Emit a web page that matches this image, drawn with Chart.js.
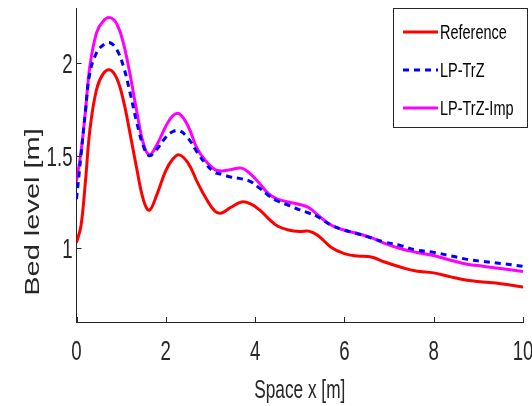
<!DOCTYPE html>
<html><head><meta charset="utf-8">
<script src="https://cdn.jsdelivr.net/npm/chart.js@4/dist/chart.umd.min.js"></script>
<style>html,body{margin:0;padding:0;background:#fff;}#wrap{width:532px;height:406px;position:relative;}</style>
</head><body><div id="wrap"><canvas id="c" width="532" height="406"></canvas></div>
<script>
const xValues = [0, 0.1, 0.2, 0.3, 0.45, 0.6, 0.75, 0.9, 1.05, 1.2, 1.35, 1.5, 1.63, 1.8, 2.0, 2.15, 2.3, 2.5, 2.7, 2.9, 3.1, 3.25, 3.45, 3.7, 3.9, 4.1, 4.3, 4.5, 4.75, 5.0, 5.2, 5.4, 5.7, 6.0, 6.3, 6.6, 6.9, 7.25, 7.6, 8.0, 8.4, 8.75, 9.1, 9.5, 10];
const referenceValues = [1.03,1.12,1.36,1.64,1.86,1.945,1.965,1.92,1.80,1.62,1.43,1.26,1.205,1.29,1.42,1.48,1.505,1.46,1.36,1.27,1.2,1.19,1.22,1.25,1.24,1.207,1.16,1.12,1.098,1.09,1.092,1.07,1.005,0.97,0.957,0.952,0.925,0.898,0.876,0.866,0.843,0.826,0.817,0.807,0.79];
const lpTrzValues = [1.265,1.50,1.74,1.949,2.058,2.10,2.112,2.075,1.985,1.84,1.68,1.55,1.50,1.535,1.60,1.63,1.636,1.595,1.52,1.455,1.41,1.40,1.385,1.375,1.36,1.325,1.285,1.255,1.232,1.207,1.19,1.17,1.125,1.097,1.078,1.055,1.033,1.015,0.99,0.977,0.957,0.939,0.928,0.917,0.902];
const lpTrzImpValues = [1.36,1.52,1.74,1.985,2.167,2.23,2.248,2.215,2.11,1.94,1.74,1.565,1.505,1.56,1.66,1.715,1.728,1.66,1.54,1.47,1.425,1.418,1.425,1.433,1.40,1.35,1.295,1.265,1.25,1.236,1.22,1.18,1.125,1.097,1.078,1.057,1.026,0.998,0.978,0.96,0.933,0.913,0.902,0.89,0.873];
const seriesNames = ['Reference', 'LP-TrZ', 'LP-TrZ-Imp'];
const xTicks = [0, 2, 4, 6, 8, 10];
const yTicks = [1, 1.5, 2];
const xTickLabels = ['0', '2', '4', '6', '8', '10'];
const yTickLabels = ['1', '1.5', '2'];
const xTitle = 'Space x [m]';
const yTitle = 'Bed level [m]';

const AXIS = '#262626';
const FONT = "'Liberation Sans', Arial, Helvetica, sans-serif";
const SQ = 0.69; // horizontal squeeze of the reference's lettering
const toPts = arr => xValues.map((x, i) => ({x: x, y: arr[i]}));

function squeezedText(ctx, text, x, y, size, align, baseline, rotate) {
  ctx.save();
  ctx.translate(x, y);
  if (rotate) { ctx.rotate(-Math.PI / 2); ctx.scale(1, SQ); } else { ctx.scale(SQ, 1); }
  ctx.font = size + 'px ' + FONT;
  ctx.textAlign = align; ctx.textBaseline = baseline;
  ctx.fillText(text, 0, 0);
  ctx.restore();
}

const axisPlugin = {
  id: 'axisDecor',
  afterDatasetsDraw(chart) {
    const {ctx, chartArea: a, scales: {x, y}} = chart;
    ctx.save();
    ctx.strokeStyle = AXIS; ctx.lineWidth = 1;
    ctx.beginPath();
    xTicks.forEach(v => { const px = Math.round(x.getPixelForValue(v)) + 0.5; ctx.moveTo(px, a.bottom); ctx.lineTo(px, a.bottom - 5); });
    yTicks.forEach(v => { const py = Math.round(y.getPixelForValue(v)) + 0.5; ctx.moveTo(a.left, py); ctx.lineTo(a.left + 5, py); });
    ctx.stroke();
    ctx.fillStyle = AXIS;
    xTicks.forEach((v, i) => squeezedText(ctx, xTickLabels[i], x.getPixelForValue(v), a.bottom + 38, 27, 'center', 'alphabetic'));
    yTicks.forEach((v, i) => squeezedText(ctx, yTickLabels[i], a.left - 4, y.getPixelForValue(v) + 10, 27, 'right', 'alphabetic'));
    squeezedText(ctx, xTitle, (a.left + a.right) / 2, 398, 25, 'center', 'alphabetic');
    squeezedText(ctx, yTitle, 33, 212, 29, 'center', 'middle', true);
    ctx.restore();
  }
};

const legendPlugin = {
  id: 'boxLegend',
  afterDraw(chart) {
    const {ctx} = chart;
    ctx.save();
    ctx.fillStyle = '#fff';
    ctx.fillRect(393.5, 8.5, 134, 119);
    ctx.strokeStyle = AXIS; ctx.lineWidth = 1;
    ctx.strokeRect(393.5, 8.5, 134, 119);
    const rows = [32, 70, 108];
    chart.data.datasets.forEach((ds, i) => {
      const yy = rows[i];
      ctx.save();
      ctx.strokeStyle = ds.borderColor; ctx.lineWidth = ds.borderWidth;
      ctx.setLineDash(ds.borderDash || []);
      ctx.beginPath(); ctx.moveTo(403, yy); ctx.lineTo(438, yy); ctx.stroke();
      ctx.restore();
      ctx.fillStyle = '#000';
      squeezedText(ctx, ds.label, 440, yy + 1, 21, 'left', 'middle');
    });
    ctx.restore();
  }
};

new Chart(document.getElementById('c'), {
  type: 'line',
  data: {
    datasets: [
      {label: seriesNames[0], data: toPts(referenceValues), borderColor: '#ff0000', borderWidth: 3, pointRadius: 0, tension: 0.4, fill: false, order: 2},
      {label: seriesNames[1], data: toPts(lpTrzValues), borderColor: '#0000ff', borderWidth: 3, borderDash: [6, 5], pointRadius: 0, tension: 0.4, fill: false, order: 0},
      {label: seriesNames[2], data: toPts(lpTrzImpValues), borderColor: '#ff00ff', borderWidth: 3, pointRadius: 0, tension: 0.4, fill: false, order: 1}
    ]
  },
  options: {
    responsive: false, animation: false, devicePixelRatio: 1,
    layout: {padding: {top: 8, right: 9, left: 0, bottom: 0}},
    plugins: {legend: {display: false}, tooltip: {enabled: false}},
    scales: {
      x: {
        type: 'linear', min: 0, max: 10,
        afterBuildTicks: s => { s.ticks = xTicks.map(v => ({value: v})); },
        afterFit: s => { s.height = 84; s.paddingLeft = 0; s.paddingRight = 0; },
        grid: {display: false, drawTicks: false},
        border: {display: true, color: AXIS, width: 1},
        ticks: {display: false}
      },
      y: {
        type: 'linear', min: 0.6, max: 2.3,
        afterBuildTicks: s => { s.ticks = yTicks.map(v => ({value: v})); },
        afterFit: s => { s.width = 76.5; s.paddingTop = 0; s.paddingBottom = 0; },
        grid: {display: false, drawTicks: false},
        border: {display: true, color: AXIS, width: 1},
        ticks: {display: false}
      }
    }
  },
  plugins: [axisPlugin, legendPlugin]
});
</script>
</body></html>
